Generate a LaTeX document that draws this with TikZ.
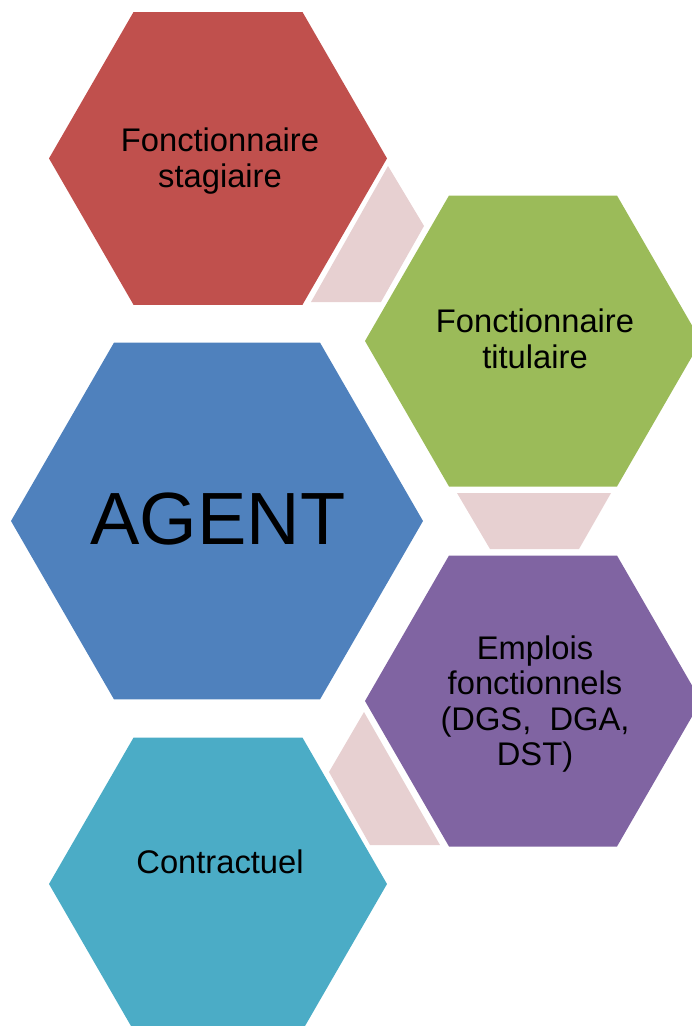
\documentclass[tikz,border=0pt]{standalone}
\usepackage{fontspec}
\setmainfont{Liberation Sans}
\definecolor{hexred}{HTML}{C0504D}
\definecolor{hexgreen}{HTML}{9BBB59}
\definecolor{hexblue}{HTML}{4F81BD}
\definecolor{hexpurple}{HTML}{8064A2}
\definecolor{hexcyan}{HTML}{4BACC6}
\definecolor{linkpink}{HTML}{E7D0D1}
\tikzset{
  hexlabel/.style={align=center, inner sep=0pt, text=black,
    font=\fontsize{32.7}{35.5}\selectfont},
  biglabel/.style={inner sep=0pt, text=black, font=\fontsize{74}{80}\selectfont},
  link/.style={fill=linkpink}
}
\newcommand{\hexa}[4]{% color, cx, cy, R
  \fill[#1] ({#2+#4},#3) -- ({#2+#4/2},{#3-0.8660254*#4}) -- ({#2-#4/2},{#3-0.8660254*#4})
    -- ({#2-#4},#3) -- ({#2-#4/2},{#3+0.8660254*#4}) -- ({#2+#4/2},{#3+0.8660254*#4}) -- cycle;}
\begin{document}
\begin{tikzpicture}[x=1pt,y=-1pt]
\useasboundingbox (0,0) rectangle (692,1026);
\clip (0,0) rectangle (692,1026);
% hexagons
\hexa{hexred}{218}{158.4}{169}
\hexa{hexgreen}{533}{341}{168}
\hexa{hexblue}{217}{521}{206}
\hexa{hexpurple}{533}{701}{168}
\hexa{hexcyan}{218}{884}{169}
% links
\fill[link] (388,166) -- (424,226) -- (381,302) -- (311,302) -- cycle;
\fill[link] (457,493) -- (611,493) -- (579,549) -- (490,549) -- cycle;
\fill[link] (364,712) -- (329,772) -- (370,845) -- (440,845) -- cycle;
% labels
\node[hexlabel] (stag) at (220,161) {Fonctionnaire\\stagiaire};
\node[hexlabel] (tit) at (535,339) {Fonctionnaire\\titulaire};
\node[biglabel] (agent) at (218,519.5) {AGENT};
\node[hexlabel] (emp) at (535,704) {Emplois\\fonctionnels\\(DGS,\ \ DGA,\\DST)};
\node[hexlabel] (con) at (220,862) {Contractuel};
\end{tikzpicture}
\end{document}
